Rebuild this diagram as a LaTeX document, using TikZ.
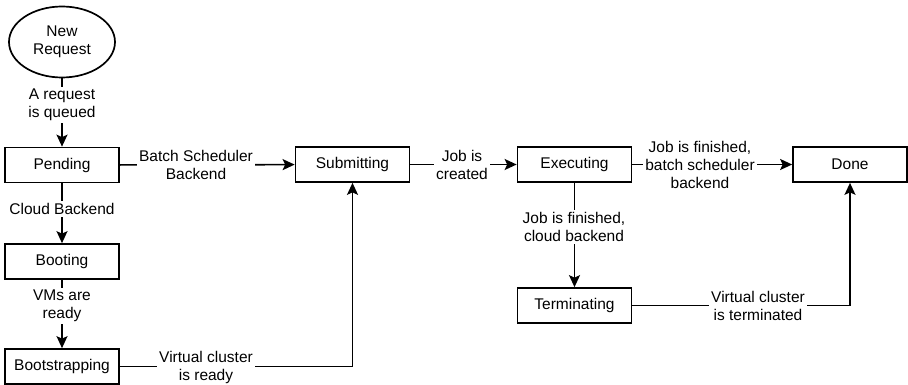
\documentclass[tikz,border=0pt]{standalone}
\usepackage{fontspec}
\setmainfont{Liberation Sans}
\usetikzlibrary{shapes.geometric,arrows.meta}
\begin{document}
\begin{tikzpicture}[x=1pt,y=-1pt,
  every node/.style={font=\fontsize{15.5}{18}\selectfont},
  box/.style={draw,line width=1.7pt,minimum width=114pt,minimum height=35pt,inner sep=0pt},
  lbl/.style={fill=white,align=center,inner sep=2pt},
  arr/.style={line width=1.7pt,-{Stealth[length=12pt,width=11pt,inset=2.5pt]}}]
\useasboundingbox (0,0) rectangle (908,385);
% states
\node[ellipse,draw,line width=1.7pt,minimum width=106pt,minimum height=71pt,inner sep=0pt,align=center] (new) at (62,42) {New\\Request};
\node[box] (pending) at (62,165) {Pending};
\node[box] (booting) at (62,261.5) {Booting};
\node[box] (boot) at (62,366.5) {Bootstrapping};
\node[box] (submit) at (352.5,164.5) {Submitting};
\node[box] (exec) at (574.5,164.5) {Executing};
\node[box] (done) at (850,164.5) {Done};
\node[box] (term) at (574.5,305.5) {Terminating};
% connectors
\draw[arr] (new) -- (pending);
\draw[arr] (pending) -- (submit);
\draw[arr] (pending) -- (booting);
\draw[arr] (booting) -- (boot);
\draw[arr] (boot.east) -| (submit.south);
\draw[arr] (submit) -- (exec);
\draw[arr] (exec) -- (done);
\draw[arr] (exec) -- (term);
\draw[arr] (term.east) -| (done.south);
% labels
\node[lbl] (l1) at (62,105) {A request\\is queued};
\node[lbl] (l2) at (196,165) {Batch Scheduler\\Backend};
\node[lbl] (l3) at (62,209) {Cloud Backend};
\node[lbl] (l4) at (62,306) {VMs are\\ready};
\node[lbl] (l5) at (206,367.5) {Virtual cluster\\is ready};
\node[lbl] (l6) at (462,165) {Job is\\created};
\node[lbl] (l7) at (700,165) {Job is finished,\\batch scheduler\\backend};
\node[lbl] (l8) at (574,227) {Job is finished,\\cloud backend};
\node[lbl] (l9) at (758,305.5) {Virtual cluster\\is terminated};
\end{tikzpicture}
\end{document}
